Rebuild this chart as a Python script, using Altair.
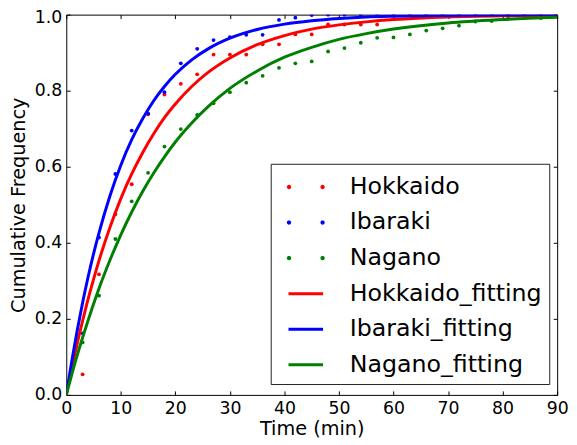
import math
import altair as alt
import pandas as pd

# ---------------- data ----------------
time_obs = [3, 6, 9, 12, 15, 18, 21, 24, 27, 30, 33, 36, 39, 42, 45,
            48, 51, 54, 57, 60, 63, 66, 69, 72, 75, 78, 81, 84, 87, 90]
hokkaido_obs = [0.054, 0.317, 0.475, 0.554, 0.738, 0.790, 0.818, 0.843, 0.895, 0.895,
                0.895, 0.922, 0.922, 0.948, 0.948, 0.974, 0.974, 0.974, 0.974, 1.0,
                1.0, 1.0, 1.0, 1.0, 1.0, 1.0, 1.0, 1.0, 1.0, 1.0]
ibaraki_obs = [0.162, 0.414, 0.581, 0.695, 0.740, 0.796, 0.872, 0.910, 0.933, 0.941,
               0.947, 0.947, 0.986, 0.992, 0.999, 1.0, 1.0, 1.0, 1.0, 1.0,
               1.0, 1.0, 1.0, 1.0, 1.0, 1.0, 1.0, 1.0, 1.0, 1.0]
nagano_obs = [0.138, 0.261, 0.410, 0.509, 0.584, 0.653, 0.699, 0.736, 0.767, 0.796,
              0.821, 0.839, 0.860, 0.872, 0.877, 0.903, 0.912, 0.926, 0.939, 0.940,
              0.948, 0.958, 0.964, 0.971, 0.982, 0.983, 0.990, 0.991, 0.991, 0.995]

time_fit = [0, 1, 2, 3, 4, 5, 6, 8, 10, 12, 14, 16, 18, 20, 23, 26, 30, 35, 40, 45,
            50, 55, 60, 70, 80, 90]
hokkaido_fit = [0.0, 0.070, 0.135, 0.195, 0.252, 0.304, 0.353, 0.440, 0.516, 0.581,
                0.637, 0.686, 0.729, 0.765, 0.811, 0.848, 0.886, 0.921, 0.945, 0.962,
                0.973, 0.981, 0.987, 0.994, 0.997, 0.998]
ibaraki_fit = [0.0, 0.088, 0.169, 0.243, 0.310, 0.371, 0.426, 0.523, 0.604, 0.671,
               0.726, 0.773, 0.811, 0.843, 0.881, 0.910, 0.938, 0.961, 0.975, 0.984,
               0.990, 0.994, 0.996, 0.998, 0.999, 1.000]
nagano_fit = [0.0, 0.053, 0.104, 0.151, 0.196, 0.239, 0.280, 0.354, 0.421, 0.481,
              0.535, 0.583, 0.626, 0.665, 0.715, 0.758, 0.806, 0.852, 0.888, 0.914,
              0.935, 0.950, 0.962, 0.978, 0.987, 0.993]

regions = ["Hokkaido", "Ibaraki", "Nagano"]
fit_names = ["Hokkaido_fitting", "Ibaraki_fitting", "Nagano_fitting"]
series_names = regions + fit_names
region_colors = ["#ff0000", "#0000ff", "#008000"]
series_colors = region_colors + region_colors

x_ticks = [0, 10, 20, 30, 40, 50, 60, 70, 80, 90]
y_ticks = [0.0, 0.2, 0.4, 0.6, 0.8, 1.0]

# ---------------- tables ----------------
obs = pd.DataFrame({
    "time": time_obs * 3,
    "value": hokkaido_obs + ibaraki_obs + nagano_obs,
    "series": sum([[r] * len(time_obs) for r in regions], []),
})
fit = pd.DataFrame({
    "time": time_fit * 3,
    "value": hokkaido_fit + ibaraki_fit + nagano_fit,
    "series": sum([[f] * len(time_fit) for f in fit_names], []),
})
keys_df = pd.DataFrame({"series": series_names})

FONT = "DejaVu Sans"


# legend symbols (filled shapes): two small dots, and a short thick line
def disc(cx, r, n=16):
    pts = [(cx + r * math.cos(2 * math.pi * k / n), r * math.sin(2 * math.pi * k / n))
           for k in range(n)]
    return "M " + " L ".join(f"{x:.4f} {y:.4f}" for x, y in pts) + " Z"


two_dots = disc(-1.046, 0.135) + " " + disc(1.046, 0.135)
short_line = "M -1.077 -0.092 L 1.077 -0.092 L 1.077 0.092 L -1.077 0.092 Z"

fill_scale = alt.Scale(domain=series_names, range=series_colors)
stroke_scale = alt.Scale(domain=fit_names, range=region_colors)
shape_scale = alt.Scale(domain=series_names,
                        range=[two_dots] * 3 + [short_line] * 3)

legend = alt.Legend(
    title=None, orient="none", legendX=207, legendY=151, direction="vertical",
    symbolSize=1056, symbolStrokeWidth=0, symbolStrokeColor="transparent",
    symbolOpacity=1,
    labelFont=FONT, labelFontSize=24, labelColor="black", labelOffset=28,
    labelLimit=0, padding=7, rowPadding=7, symbolOffset=12,
    strokeColor="#222222", fillColor="white", cornerRadius=0,
)

x_scale = alt.Scale(domain=[0, 90], nice=False, zero=False)
y_scale = alt.Scale(domain=[0, 1], nice=False)

axis_common = dict(grid=False, domain=False, ticks=True, tickSize=4,
                   tickColor="black", tickWidth=1, offset=-4,
                   labelFont=FONT, labelFontSize=17.5, labelColor="black",
                   labelFlush=False, labelOverlap=False)
title_common = dict(titleFont=FONT, titleFontSize=19.5, titleFontWeight="normal",
                    titleColor="black")

x_bottom = alt.Axis(orient="bottom", values=x_ticks, format="d",
                    labelPadding=4.7, title="Time (min)", titlePadding=2.7,
                    **axis_common, **title_common)
y_left = alt.Axis(orient="left", values=y_ticks, format=".1f",
                  labelPadding=4.6, title="Cumulative Frequency",
                  titlePadding=6,
                  **{**axis_common,
                     "labelOffset": {"condition": {"test": "datum.value >= 1",
                                                   "value": 3},
                                     "value": 0}},
                  **title_common)
x_top = alt.Axis(orient="top", values=x_ticks, labels=False, title=None,
                 **axis_common)
y_right = alt.Axis(orient="right", values=y_ticks, labels=False, title=None,
                   **axis_common)

points = alt.Chart(obs).mark_circle(size=15, opacity=1, clip=True).encode(
    x=alt.X("time:Q", scale=x_scale, axis=x_bottom),
    y=alt.Y("value:Q", scale=y_scale, axis=y_left),
    fill=alt.Fill("series:N", scale=fill_scale, legend=legend),
)

lines = alt.Chart(fit).mark_line(
    strokeWidth=3, interpolate="monotone", clip=True
).encode(
    x=alt.X("time:Q", scale=x_scale, axis=x_top),
    y=alt.Y("value:Q", scale=y_scale, axis=y_right),
    stroke=alt.Stroke("series:N", scale=stroke_scale, legend=None),
)

keys = alt.Chart(keys_df).mark_point(opacity=0, filled=True).encode(
    fill=alt.Fill("series:N", scale=fill_scale, legend=legend),
    shape=alt.Shape("series:N", scale=shape_scale, legend=legend),
)

chart = alt.layer(points, lines, keys).resolve_axis(
    x="independent", y="independent"
).properties(
    width=497, height=385,
    autosize=alt.AutoSizeParams(type="none"),
    padding={"left": 59, "top": 4, "right": 12, "bottom": 47},
).configure_view(stroke="black", strokeWidth=1)

chart.save("out.html", embed_options={"renderer": "svg", "actions": False})
